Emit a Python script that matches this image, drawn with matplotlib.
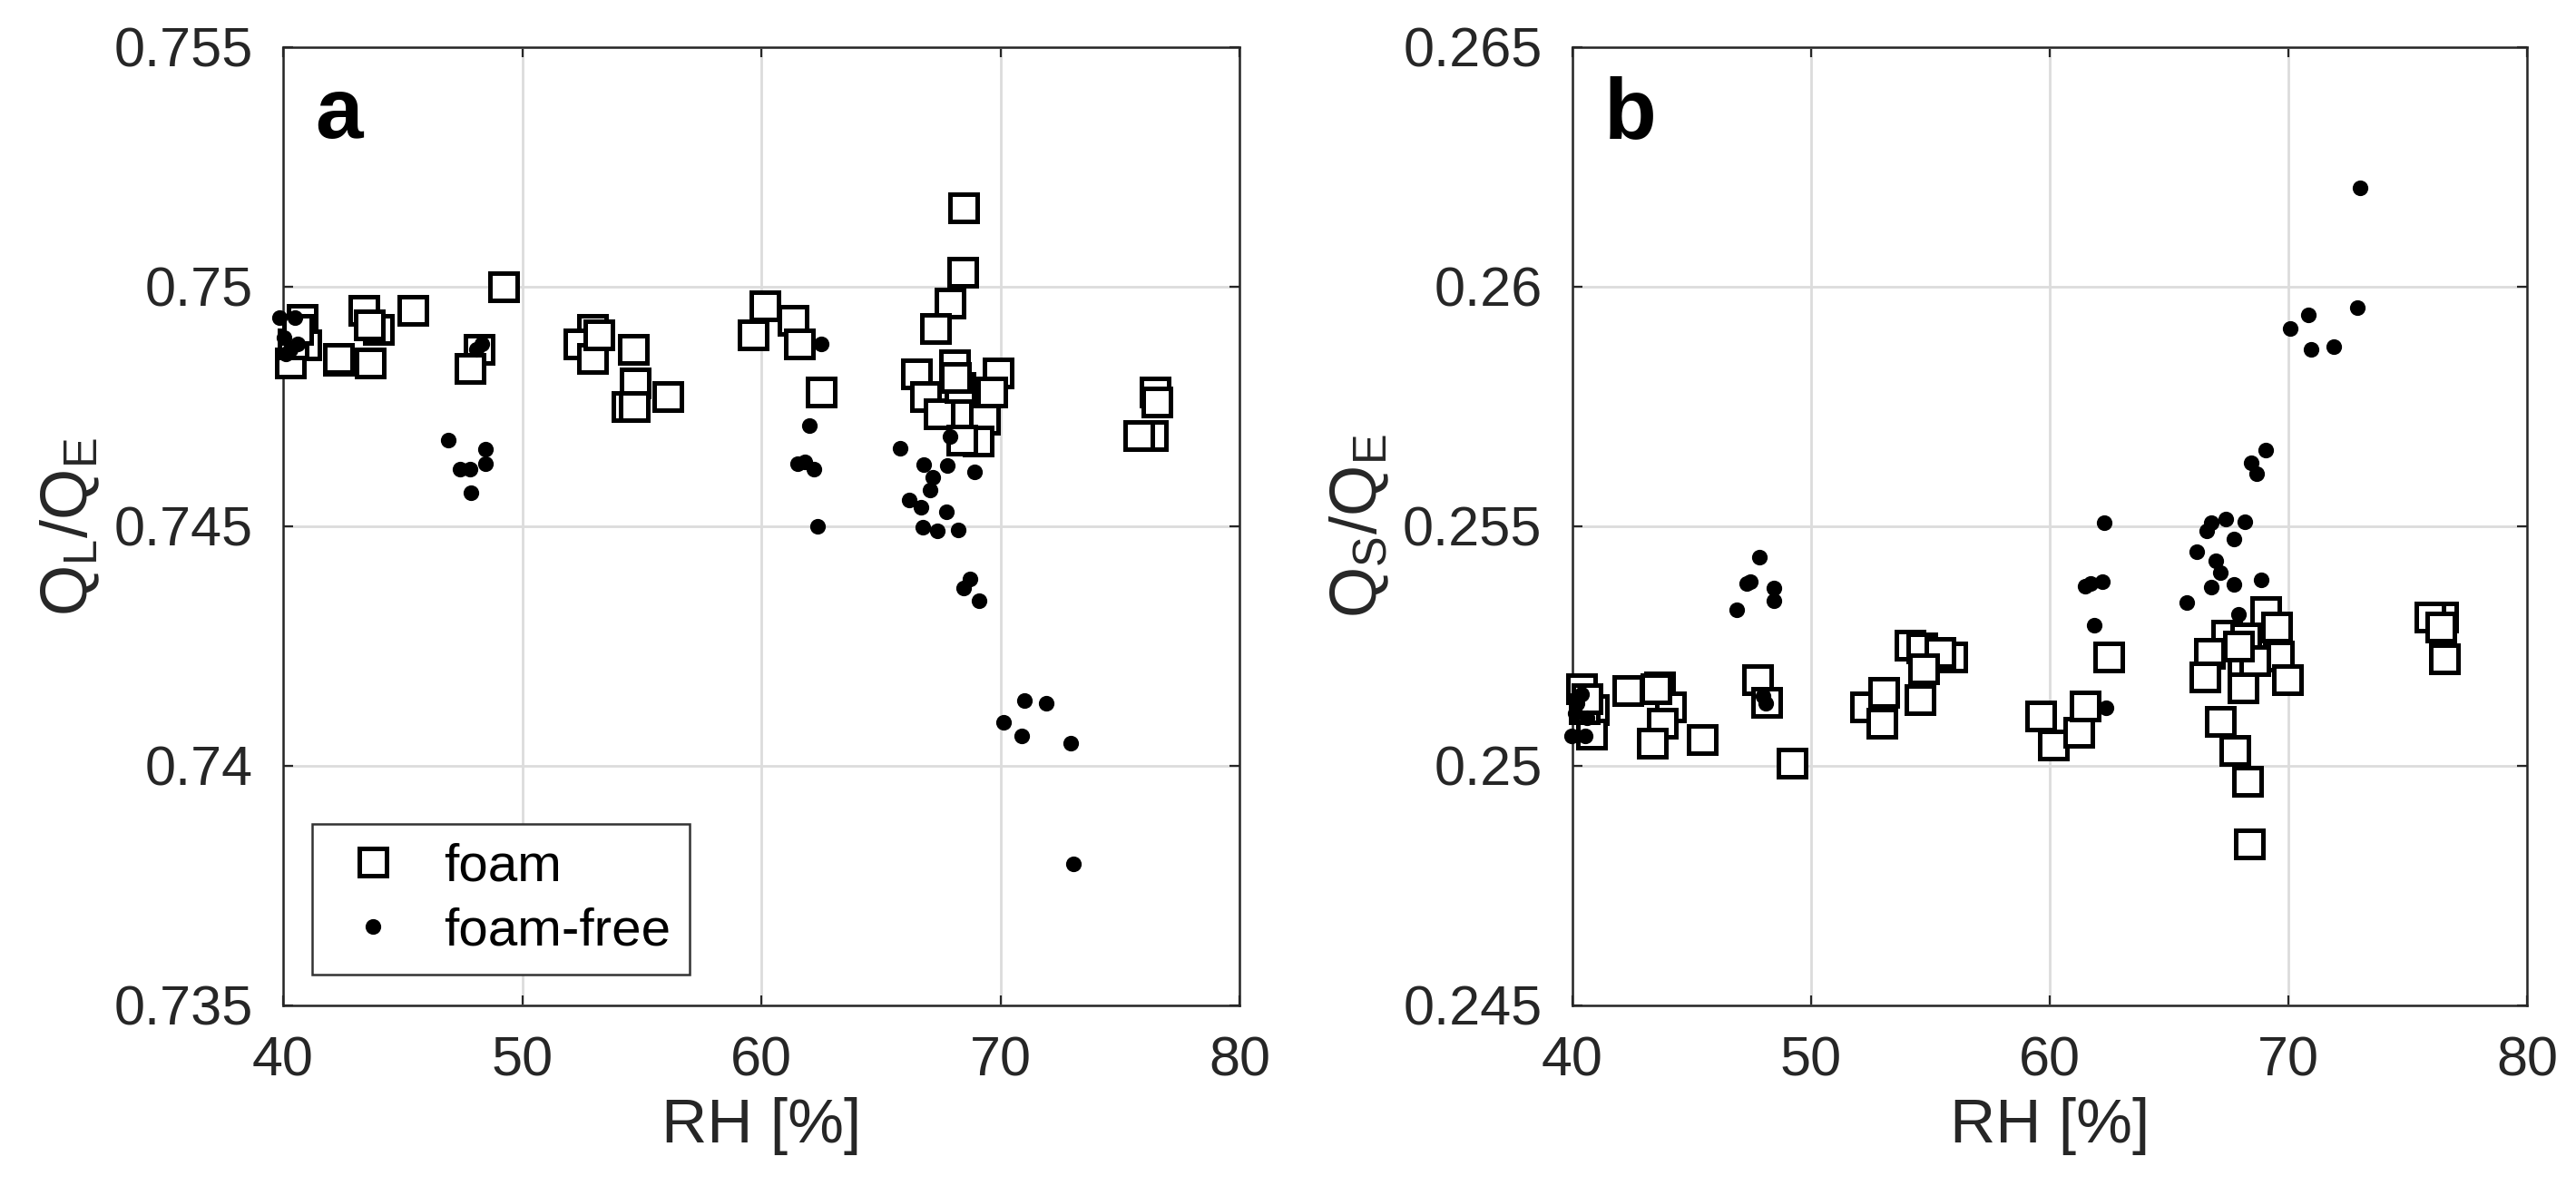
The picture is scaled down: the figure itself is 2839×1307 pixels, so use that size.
import matplotlib
matplotlib.use("Agg")
import matplotlib.pyplot as plt
from matplotlib.ticker import FuncFormatter

plt.rcParams['font.family'] = ['Liberation Sans', 'DejaVu Sans']
plt.rcParams['mathtext.default'] = 'regular'

# Panel a: Q_L/Q_E vs RH
rh_foam_a = [40.8, 40.95, 40.3, 40.4, 40.6, 42.3, 43.37, 43.97, 45.41, 42.32, 43.63, 43.6,
             48.2, 47.8, 49.22,
             52.95, 52.36, 52.95, 54.64, 54.73, 54.4, 54.7, 56.1, 53.2,
             60.15, 61.34, 59.64, 61.6, 62.5,
             68.47, 68.41, 67.88, 67.3, 68.07, 66.49, 69.9, 66.87, 67.44, 69.65, 69.33,
             69.08, 68.39, 68.3, 68.1,
             76.48, 76.35, 75.78, 76.55]
ql_foam = [0.74932, 0.74879, 0.74841, 0.7488, 0.7491, 0.74847, 0.7495, 0.7491, 0.7495, 0.7485, 0.7484, 0.7492,
           0.7487, 0.7483, 0.7500,
           0.7491, 0.7488, 0.7485, 0.7487, 0.7480, 0.7475, 0.7475, 0.7477, 0.7490,
           0.7496, 0.7493, 0.7490, 0.7488, 0.7478,
           0.75164, 0.7503, 0.74966, 0.74913, 0.74836, 0.74818, 0.7482, 0.7477, 0.74734, 0.7478, 0.74723,
           0.74677, 0.7468, 0.7479, 0.7481,
           0.7478, 0.7469, 0.7469, 0.7476]

rh_free_a = [39.85, 40.5, 40.05, 40.1, 40.6, 40.3,
             46.9, 47.4, 47.8, 48.46, 48.46, 47.86, 48.1, 48.3,
             62.5, 62.0, 61.5, 62.2, 62.35, 61.8,
             67.88, 65.8, 66.8, 67.78, 68.9, 67.18, 67.05, 66.2, 66.68, 67.73, 66.74,
             67.37, 68.24, 68.74, 68.45, 69.11, 70.14, 71.0, 71.9, 70.87, 72.92, 73.05]
ql_free = [0.74936, 0.74936, 0.74894, 0.7486, 0.7488, 0.7487,
           0.7468, 0.7462, 0.7462, 0.7466, 0.7463, 0.7457, 0.7487, 0.7488,
           0.7488, 0.7471, 0.7463, 0.7462, 0.7450, 0.74635,
           0.74688, 0.74662, 0.74628, 0.74626, 0.74614, 0.74602, 0.74575, 0.74554, 0.74539, 0.7453, 0.74498,
           0.7449, 0.74493, 0.7439, 0.74372, 0.74344, 0.7409, 0.74136, 0.74131, 0.74062, 0.74047, 0.73796]

# Panel b: Q_S/Q_E vs RH
rh_foam_b = [40.37, 40.88, 40.8, 40.5, 40.6, 42.31, 43.66, 44.09, 43.75, 43.33, 45.44, 43.5,
             47.77, 48.14, 49.2,
             52.28, 52.96, 53.04, 54.14, 54.65, 55.9, 55.4, 54.73, 54.56,
             59.63, 60.14, 61.23, 61.47, 62.47,
             69.04, 69.5, 67.43, 68.23, 66.69, 66.49, 68.1, 69.57, 69.97, 68.1, 67.16,
             67.76, 68.3, 68.37, 68.6, 67.9,
             76.47, 75.93, 76.53, 76.4]
qs_foam = [0.2516, 0.25117, 0.25066, 0.2512, 0.2514, 0.25158, 0.25164, 0.25123, 0.25088, 0.25047, 0.25054, 0.2516,
           0.2518, 0.25132, 0.25006,
           0.25123, 0.25088, 0.25154, 0.25252, 0.25246, 0.25227, 0.25236, 0.25202, 0.25139,
           0.25104, 0.25044, 0.25069, 0.25125, 0.25227,
           0.25321, 0.25289, 0.25272, 0.25267, 0.25234, 0.25185, 0.25196, 0.25229, 0.2518, 0.25163, 0.25093,
           0.25033, 0.24967, 0.24837, 0.2522, 0.2525,
           0.2531, 0.2531, 0.25223, 0.2529]

rh_free_b = [39.95, 40.55, 40.2, 40.4, 40.1, 40.6,
             47.84, 47.47, 48.45, 48.45, 46.9, 47.97, 47.3, 48.1,
             62.28, 61.5, 62.2, 61.87, 62.34, 61.7,
             73.01, 72.88, 70.82, 70.08, 70.95, 71.91, 69.06, 68.43, 68.67, 67.36, 66.76,
             68.17, 66.56, 67.7, 66.16, 66.96, 67.16, 66.76, 67.72, 68.84, 65.76, 67.9]
qs_free = [0.25063, 0.25063, 0.2513, 0.2515, 0.2511, 0.2510,
           0.25435, 0.25385, 0.25372, 0.25344, 0.25326, 0.25145, 0.2538, 0.2513,
           0.25507, 0.25375, 0.25385, 0.25294, 0.25122, 0.2538,
           0.26206, 0.25956, 0.25942, 0.25913, 0.25869, 0.25874, 0.25659, 0.25632, 0.2561, 0.25515, 0.25507,
           0.25509, 0.2549, 0.25474, 0.25447, 0.25427, 0.25403, 0.25373, 0.25379, 0.25389, 0.25341, 0.25316]

x_ticks = [40, 50, 60, 70, 80]
yticks_a = [0.735, 0.74, 0.745, 0.75, 0.755]
yticks_b = [0.245, 0.25, 0.255, 0.26, 0.265]

axis_col = '#262626'

fig = plt.figure(figsize=(14.195, 6.535), dpi=200)
ax1 = fig.add_axes([0.1099, 0.1523, 0.3713, 0.8080])
ax2 = fig.add_axes([0.6104, 0.1523, 0.3706, 0.8080])


def style(ax, yticks, ylab, letter):
    ax.set_xlim(40, 80)
    ax.set_ylim(yticks[0], yticks[-1])
    ax.set_xticks(x_ticks)
    ax.set_yticks(yticks)
    ax.yaxis.set_major_formatter(FuncFormatter(lambda v, p: '%g' % round(v, 4)))
    ax.grid(True, color='#dcdcdc', linewidth=1.0, linestyle='-')
    ax.set_axisbelow(True)
    ax.tick_params(direction='in', length=4, width=0.8, colors=axis_col,
                   labelsize=22, top=True, right=True, pad=12)
    for s in ax.spines.values():
        s.set_color(axis_col)
        s.set_linewidth(0.9)
    ax.set_xlabel('RH [%]', fontsize=25, color=axis_col, labelpad=4)
    ax.set_ylabel(ylab, fontsize=26, color=axis_col)
    ax.yaxis.set_label_coords(-0.19, 0.5)
    ax.text(0.033, 0.905, letter, transform=ax.transAxes, fontsize=34,
            fontweight='bold', va='baseline', ha='left')


ax1.plot(rh_foam_a, ql_foam, 's', ms=10.5, mfc='white', mec='black', mew=1.8,
         clip_on=False, label='foam', zorder=3)
ax1.plot(rh_free_a, ql_free, 'o', ms=5.2, mfc='black', mec='black',
         clip_on=False, label='foam-free', zorder=4)
style(ax1, yticks_a, r'Q$_L$/Q$_E$', 'a')

leg = ax1.legend(loc='lower left', bbox_to_anchor=(0.030, 0.032), borderaxespad=0,
                 fontsize=21, borderpad=0.35, handlelength=1.6, handletextpad=0.55,
                 labelspacing=0.3, fancybox=False, framealpha=1, edgecolor='#333333')
leg.get_frame().set_linewidth(0.9)

ax2.plot(rh_foam_b, qs_foam, 's', ms=10.5, mfc='white', mec='black', mew=1.8,
         clip_on=False, zorder=3)
ax2.plot(rh_free_b, qs_free, 'o', ms=5.2, mfc='black', mec='black',
         clip_on=False, zorder=4)
style(ax2, yticks_b, r'Q$_S$/Q$_E$', 'b')

fig.savefig('out.png', dpi=200)
